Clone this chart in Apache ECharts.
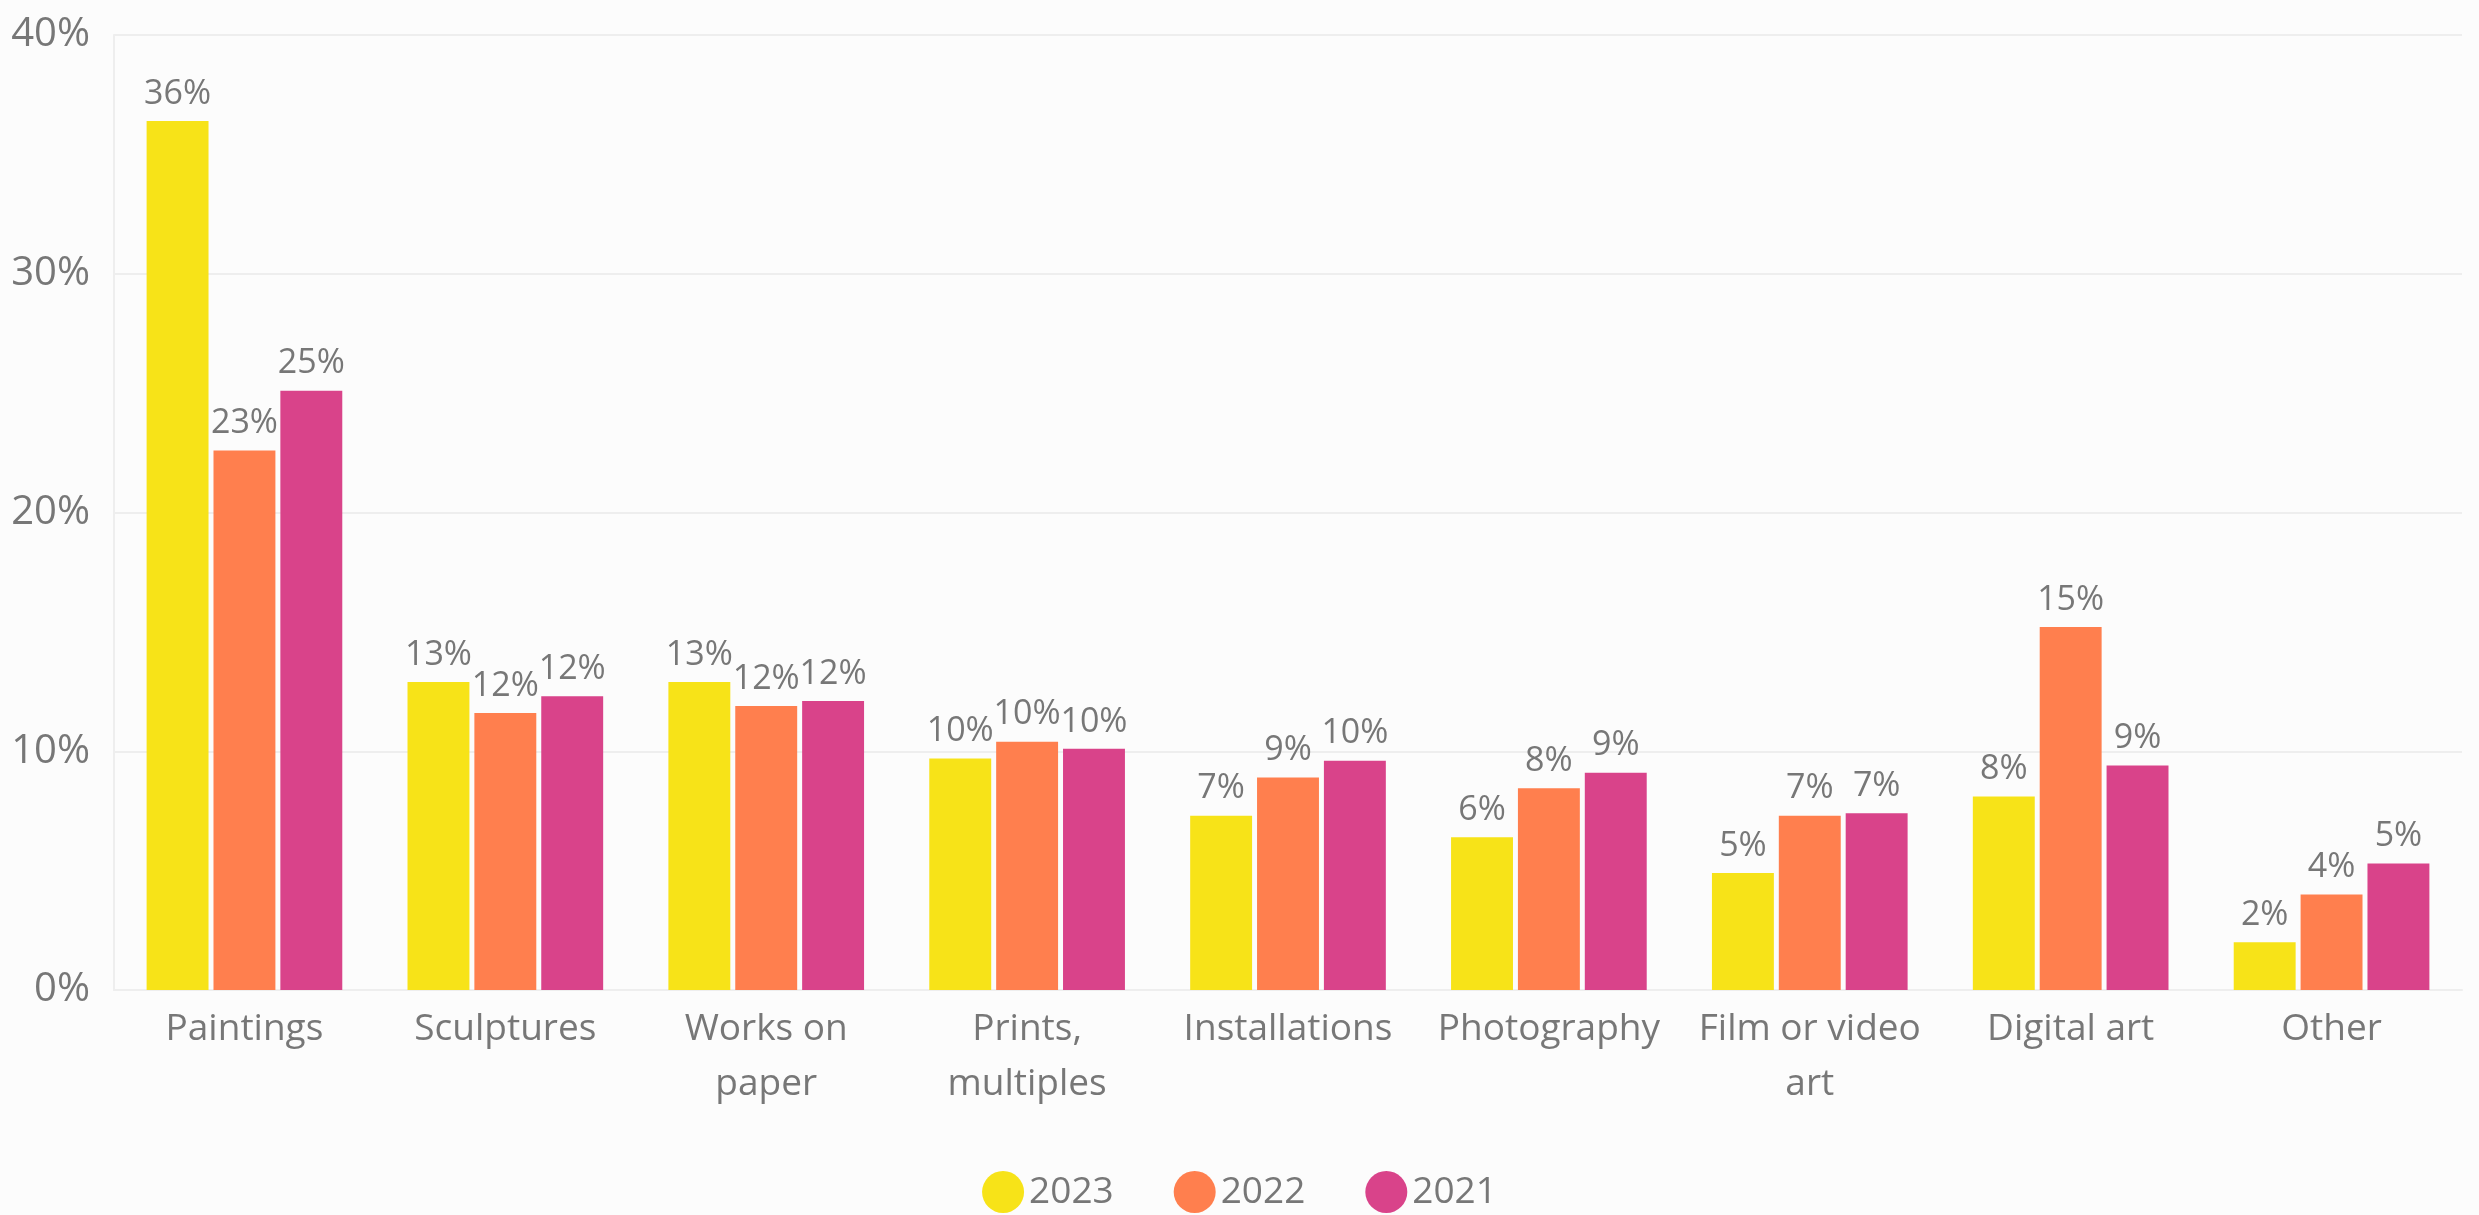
<!DOCTYPE html>
<html>
<head>
<meta charset="utf-8">
<script src="https://cdn.jsdelivr.net/npm/echarts@6/dist/echarts.min.js"></script>
<style>
  html, body { margin: 0; padding: 0; background: #fcfcfc; }
  #chart { width: 2479px; height: 1215px; }
</style>
</head>
<body>
<div id="chart"></div>
<script>
// categories and per-year shares (%)
var categories = ['Paintings', 'Sculptures', 'Works on\npaper', 'Prints,\nmultiples', 'Installations',
  'Photography', 'Film or video\nart', 'Digital art', 'Other'];
var years = ['2023', '2022', '2021'];
var values2023 = [36.4, 12.9, 12.9, 9.7, 7.3, 6.4, 4.9, 8.1, 2.0];
var values2022 = [22.6, 11.6, 11.9, 10.4, 8.9, 8.45, 7.3, 15.2, 4.0];
var values2021 = [25.1, 12.3, 12.1, 10.1, 9.6, 9.1, 7.4, 9.4, 5.3];
var yTicks = [0, 10, 20, 30, 40];

var colors = ['#f7e318', '#ff7f4e', '#d9438a'];
var textColor = '#777777';
var font = '"Open Sans", "Noto Sans", sans-serif';

var chart = echarts.init(document.getElementById('chart'));

function makeSeries(name, data, i) {
  return {
    name: name,
    type: 'bar',
    data: data,
    barGap: '8%',
    barCategoryGap: '25%',
    itemStyle: { color: colors[i] },
    label: {
      show: true,
      position: 'top',
      distance: 10,
      color: textColor,
      fontFamily: font,
      fontSize: 34,
      formatter: function (p) { return Math.round(p.value) + '%'; }
    }
  };
}

chart.setOption({
  backgroundColor: '#fcfcfc',
  animation: false,
  color: colors,
  grid: { left: 114, right: 17, top: 35, bottom: 225 },
  legend: {
    data: years,
    bottom: -3,
    left: 'center',
    icon: 'circle',
    itemWidth: 42,
    itemHeight: 42,
    itemGap: 60,
    textStyle: { color: textColor, fontFamily: font, fontSize: 37 }
  },
  xAxis: {
    type: 'category',
    data: categories,
    axisTick: { show: false },
    axisLine: { lineStyle: { color: '#eeeeee', width: 2 } },
    axisLabel: {
      color: textColor,
      fontFamily: font,
      fontSize: 37,
      lineHeight: 55,
      margin: 12,
      interval: 0
    }
  },
  yAxis: {
    type: 'value',
    min: yTicks[0],
    max: yTicks[yTicks.length - 1],
    interval: 10,
    axisLine: { show: true, lineStyle: { color: '#eeeeee', width: 2 } },
    splitLine: { lineStyle: { color: '#eeeeee', width: 2 } },
    axisLabel: {
      color: textColor,
      fontFamily: font,
      fontSize: 40,
      margin: 24,
      formatter: '{value}%'
    }
  },
  series: [
    makeSeries(years[0], values2023, 0),
    makeSeries(years[1], values2022, 1),
    makeSeries(years[2], values2021, 2)
  ]
});
</script>
</body>
</html>
